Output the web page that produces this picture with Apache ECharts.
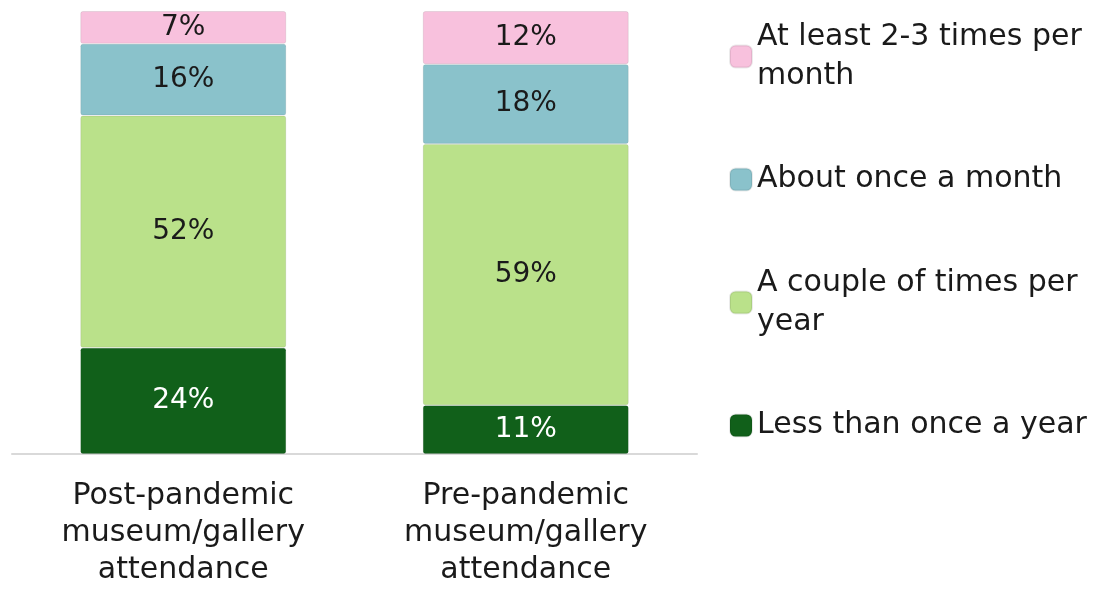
<!DOCTYPE html>
<html>
<head>
<meta charset="utf-8">
<script src="https://cdn.jsdelivr.net/npm/echarts@6/dist/echarts.min.js"></script>
<style>
  html, body { margin: 0; padding: 0; background: #fff; }
  #chart { width: 1113px; height: 589px; }
</style>
</head>
<body>
<div id="chart"></div>
<script>
// categories (x axis)
const categories = [
  'Post-pandemic\nmuseum/gallery\nattendance',
  'Pre-pandemic\nmuseum/gallery\nattendance'
];
// series, bottom of stack first
const seriesNames = [
  'Less than once a year',
  'A couple of times per year',
  'About once a month',
  'At least 2-3 times per month'
];
// shares in % (labels are rounded)
const lessThanYearly = [24.0, 11];
const coupleTimesYear = [52.4, 59];
const onceAMonth = [16.2, 18];
const twoThreeMonth = [7.4, 12];
// legend text as it wraps in the picture
const legendLabels = {
  'At least 2-3 times per month': 'At least 2-3 times per\nmonth',
  'About once a month': 'About once a month',
  'A couple of times per year': 'A couple of times per\nyear',
  'Less than once a year': 'Less than once a year'
};

const FONT = '"DejaVu Sans", sans-serif';
const colors = ['#11601A', '#BAE18A', '#8AC2CB', '#F8C1DD'];
const values = [lessThanYearly, coupleTimesYear, onceAMonth, twoThreeMonth];
const LH = 39;

let myChart = echarts.init(document.getElementById('chart'));

let series = seriesNames.map(function (name, i) {
  return {
    name: name,
    type: 'bar',
    stack: 'total',
    barWidth: 206,
    data: values[i],
    itemStyle: { color: colors[i], borderColor: 'rgba(0,0,0,0.08)', borderWidth: 1, borderRadius: 2 },
    label: {
      show: true,
      position: 'inside',
      formatter: function (p) { return Math.round(p.value) + '%'; },
      fontFamily: FONT,
      fontSize: 28,
      color: i === 0 ? '#ffffff' : '#1a1a1a'
    }
  };
});

let legendOrder = seriesNames.slice().reverse();

let option = {
  animation: false,
  color: colors,
  grid: { left: 12, right: 416, top: 11, bottom: 133, containLabel: false },
  legend: {
    orient: 'vertical',
    left: 729,
    top: -2,
    padding: 0,
    itemWidth: 22,
    itemHeight: 22,
    itemGap: 45,
    icon: 'roundRect',
    formatter: function (name) { return legendLabels[name]; },
    textStyle: { fontFamily: FONT, fontSize: 30, color: '#1a1a1a', lineHeight: LH },
    data: legendOrder.map(function (n) {
      let twoLine = legendLabels[n].indexOf('\n') >= 0;
      return { name: n, textStyle: { padding: twoLine ? [LH, 0, 0, 0] : 0 } };
    })
  },
  xAxis: {
    type: 'category',
    data: categories,
    axisLine: { show: true, lineStyle: { color: '#d9d9d9', width: 2 } },
    axisTick: { show: false },
    axisLabel: {
      fontFamily: FONT,
      fontSize: 30,
      lineHeight: 37,
      color: '#1a1a1a',
      margin: 24,
      interval: 0
    }
  },
  yAxis: {
    type: 'value',
    min: 0,
    max: 100,
    show: false,
    splitLine: { show: false }
  },
  series: series
};

myChart.setOption(option);
window.addEventListener('resize', () => { myChart.resize() });
</script>
</body>
</html>
